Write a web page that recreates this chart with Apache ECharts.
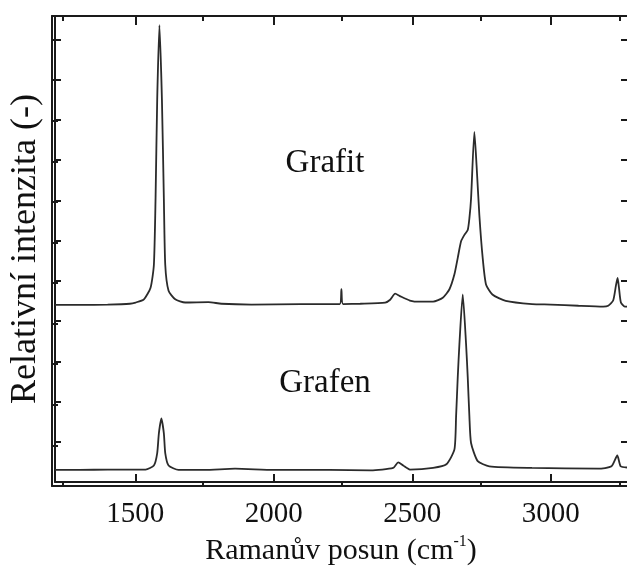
<!DOCTYPE html>
<html><head><meta charset="utf-8">
<script src="https://cdn.jsdelivr.net/npm/echarts@6/dist/echarts.min.js"></script>
<style>html,body{margin:0;padding:0;background:#fff}#c{width:627px;height:571px}</style>
</head><body><div id="c"></div>
<script>
// Raman shift (cm-1) / relative intensity pairs
const graphite = [[1210,4.40],[1300,4.40],[1400,4.41],[1480,4.43],[1501,4.46],[1531,4.54],[1555,4.83],[1567,5.40],[1573,7.04],[1579,9.51],[1587,11.35],[1596,9.51],[1603,7.04],[1608,5.40],[1620,4.75],[1644,4.54],[1680,4.46],[1764,4.47],[1811,4.43],[1919,4.41],[2098,4.42],[2238,4.42],[2244,4.79],[2250,4.42],[2312,4.43],[2402,4.46],[2420,4.53],[2438,4.68],[2455,4.62],[2491,4.51],[2527,4.48],[2575,4.48],[2610,4.58],[2634,4.79],[2652,5.16],[2664,5.57],[2676,5.98],[2688,6.14],[2700,6.26],[2706,6.55],[2712,7.04],[2724,8.70],[2732,7.86],[2742,6.63],[2754,5.57],[2766,4.91],[2789,4.66],[2837,4.50],[2932,4.42],[3000,4.41],[3100,4.38],[3189,4.36],[3207,4.38],[3225,4.51],[3235,4.88],[3241,5.07],[3246,4.83],[3253,4.46],[3267,4.36],[3275,4.36]];
const graphene = [[1210,0.30],[1300,0.30],[1400,0.31],[1500,0.31],[1537,0.31],[1567,0.41],[1579,0.72],[1585,1.21],[1594,1.58],[1603,1.21],[1608,0.72],[1620,0.41],[1656,0.30],[1750,0.30],[1860,0.33],[2000,0.30],[2200,0.30],[2350,0.29],[2431,0.35],[2449,0.49],[2467,0.41],[2491,0.31],[2575,0.35],[2623,0.44],[2652,0.81],[2658,1.63],[2664,2.61],[2670,3.43],[2682,4.66],[2694,3.43],[2700,2.61],[2706,1.63],[2712,0.97],[2736,0.52],[2778,0.39],[2932,0.35],[3171,0.33],[3219,0.39],[3240,0.66],[3252,0.39],[3275,0.36]];
const xMajorTicks = [1500, 2000, 2500, 3000];
const xMinorTicks = [1250, 1750, 2250, 2750, 3250];
const seriesNames = ['Grafit', 'Grafen'];
const xTitle = 'Ramanův posun (cm';
const yTitle = 'Relativní intenzita (-)';

const FONT = 'Liberation Serif';
const X_MIN = 1210, X_MAX = 3275, Y_MIN = 0, Y_MAX = 11.58;
const lineCol = '#2b2b2b', axisCol = '#1a1a1a';
const gridRect = {left: 52, top: 16, width: 577, height: 470};

function xAx(gi, pos, ticks, len, labels) {
  return {
    type: 'value', gridIndex: gi, position: pos, min: X_MIN, max: X_MAX,
    axisLine: {show: true, onZero: false, lineStyle: {color: axisCol, width: 2}},
    axisTick: {show: true, inside: true, length: len, customValues: ticks, lineStyle: {color: axisCol, width: 2}},
    axisLabel: labels ? {show: true, customValues: ticks, margin: 18, color: '#111', fontFamily: FONT, fontSize: 29, formatter: v => String(v)} : {show: false},
    splitLine: {show: false}
  };
}
function yAx(gi, pos, showLine) {
  return {
    type: 'value', gridIndex: gi, position: pos, min: Y_MIN, max: Y_MAX, interval: 1,
    axisLine: {show: showLine, onZero: false, lineStyle: {color: axisCol, width: 2}},
    axisTick: {show: true, inside: true, length: 6, lineStyle: {color: axisCol, width: 2}},
    axisLabel: {show: false}, splitLine: {show: false}
  };
}

const xAxes = [
  xAx(0, 'bottom', xMajorTicks, 8, true),
  xAx(0, 'top', xMajorTicks, 9, false),
  xAx(1, 'bottom', xMinorTicks, 4, false),
  xAx(1, 'top', xMinorTicks, 5, false)
];
Object.assign(xAxes[0], {
  name: '{a|' + xTitle + '}{b|-1}{a|)}', nameLocation: 'middle', nameGap: 52,
  nameTextStyle: {rich: {a: {fontFamily: FONT, fontSize: 30, color: '#111', lineHeight: 34}, b: {fontFamily: FONT, fontSize: 16, color: '#111', verticalAlign: 'top', lineHeight: 34, padding: [0, 0, 12, 0]}}}
});
const yAxes = [yAx(0, 'left', true), yAx(0, 'right', false), yAx(1, 'left', true)];
Object.assign(yAxes[0], {
  name: yTitle, nameLocation: 'middle', nameGap: 11, nameRotate: 90,
  nameTextStyle: {fontFamily: FONT, fontSize: 36, color: '#111'}
});

const chart = echarts.init(document.getElementById('c'), null, {renderer: 'canvas'});
chart.setOption({
  animation: false,
  backgroundColor: '#fff',
  grid: [Object.assign({}, gridRect), Object.assign({}, gridRect)],
  xAxis: xAxes,
  yAxis: yAxes,
  series: [
    {name: seriesNames[0], type: 'line', xAxisIndex: 0, yAxisIndex: 0, data: graphite, showSymbol: false, smooth: 0.2, lineStyle: {color: lineCol, width: 1.8}},
    {name: seriesNames[1], type: 'line', xAxisIndex: 0, yAxisIndex: 0, data: graphene, showSymbol: false, smooth: 0.2, lineStyle: {color: lineCol, width: 1.8}}
  ],
  graphic: [
    {type: 'text', x: 325, y: 163, style: {text: seriesNames[0], font: '33px "Liberation Serif"', fill: '#111', align: 'center', verticalAlign: 'middle', textAlign: 'center', textVerticalAlign: 'middle'}},
    {type: 'text', x: 325, y: 383, style: {text: seriesNames[1], font: '33px "Liberation Serif"', fill: '#111', align: 'center', verticalAlign: 'middle', textAlign: 'center', textVerticalAlign: 'middle'}}
  ]
});
</script></body></html>
